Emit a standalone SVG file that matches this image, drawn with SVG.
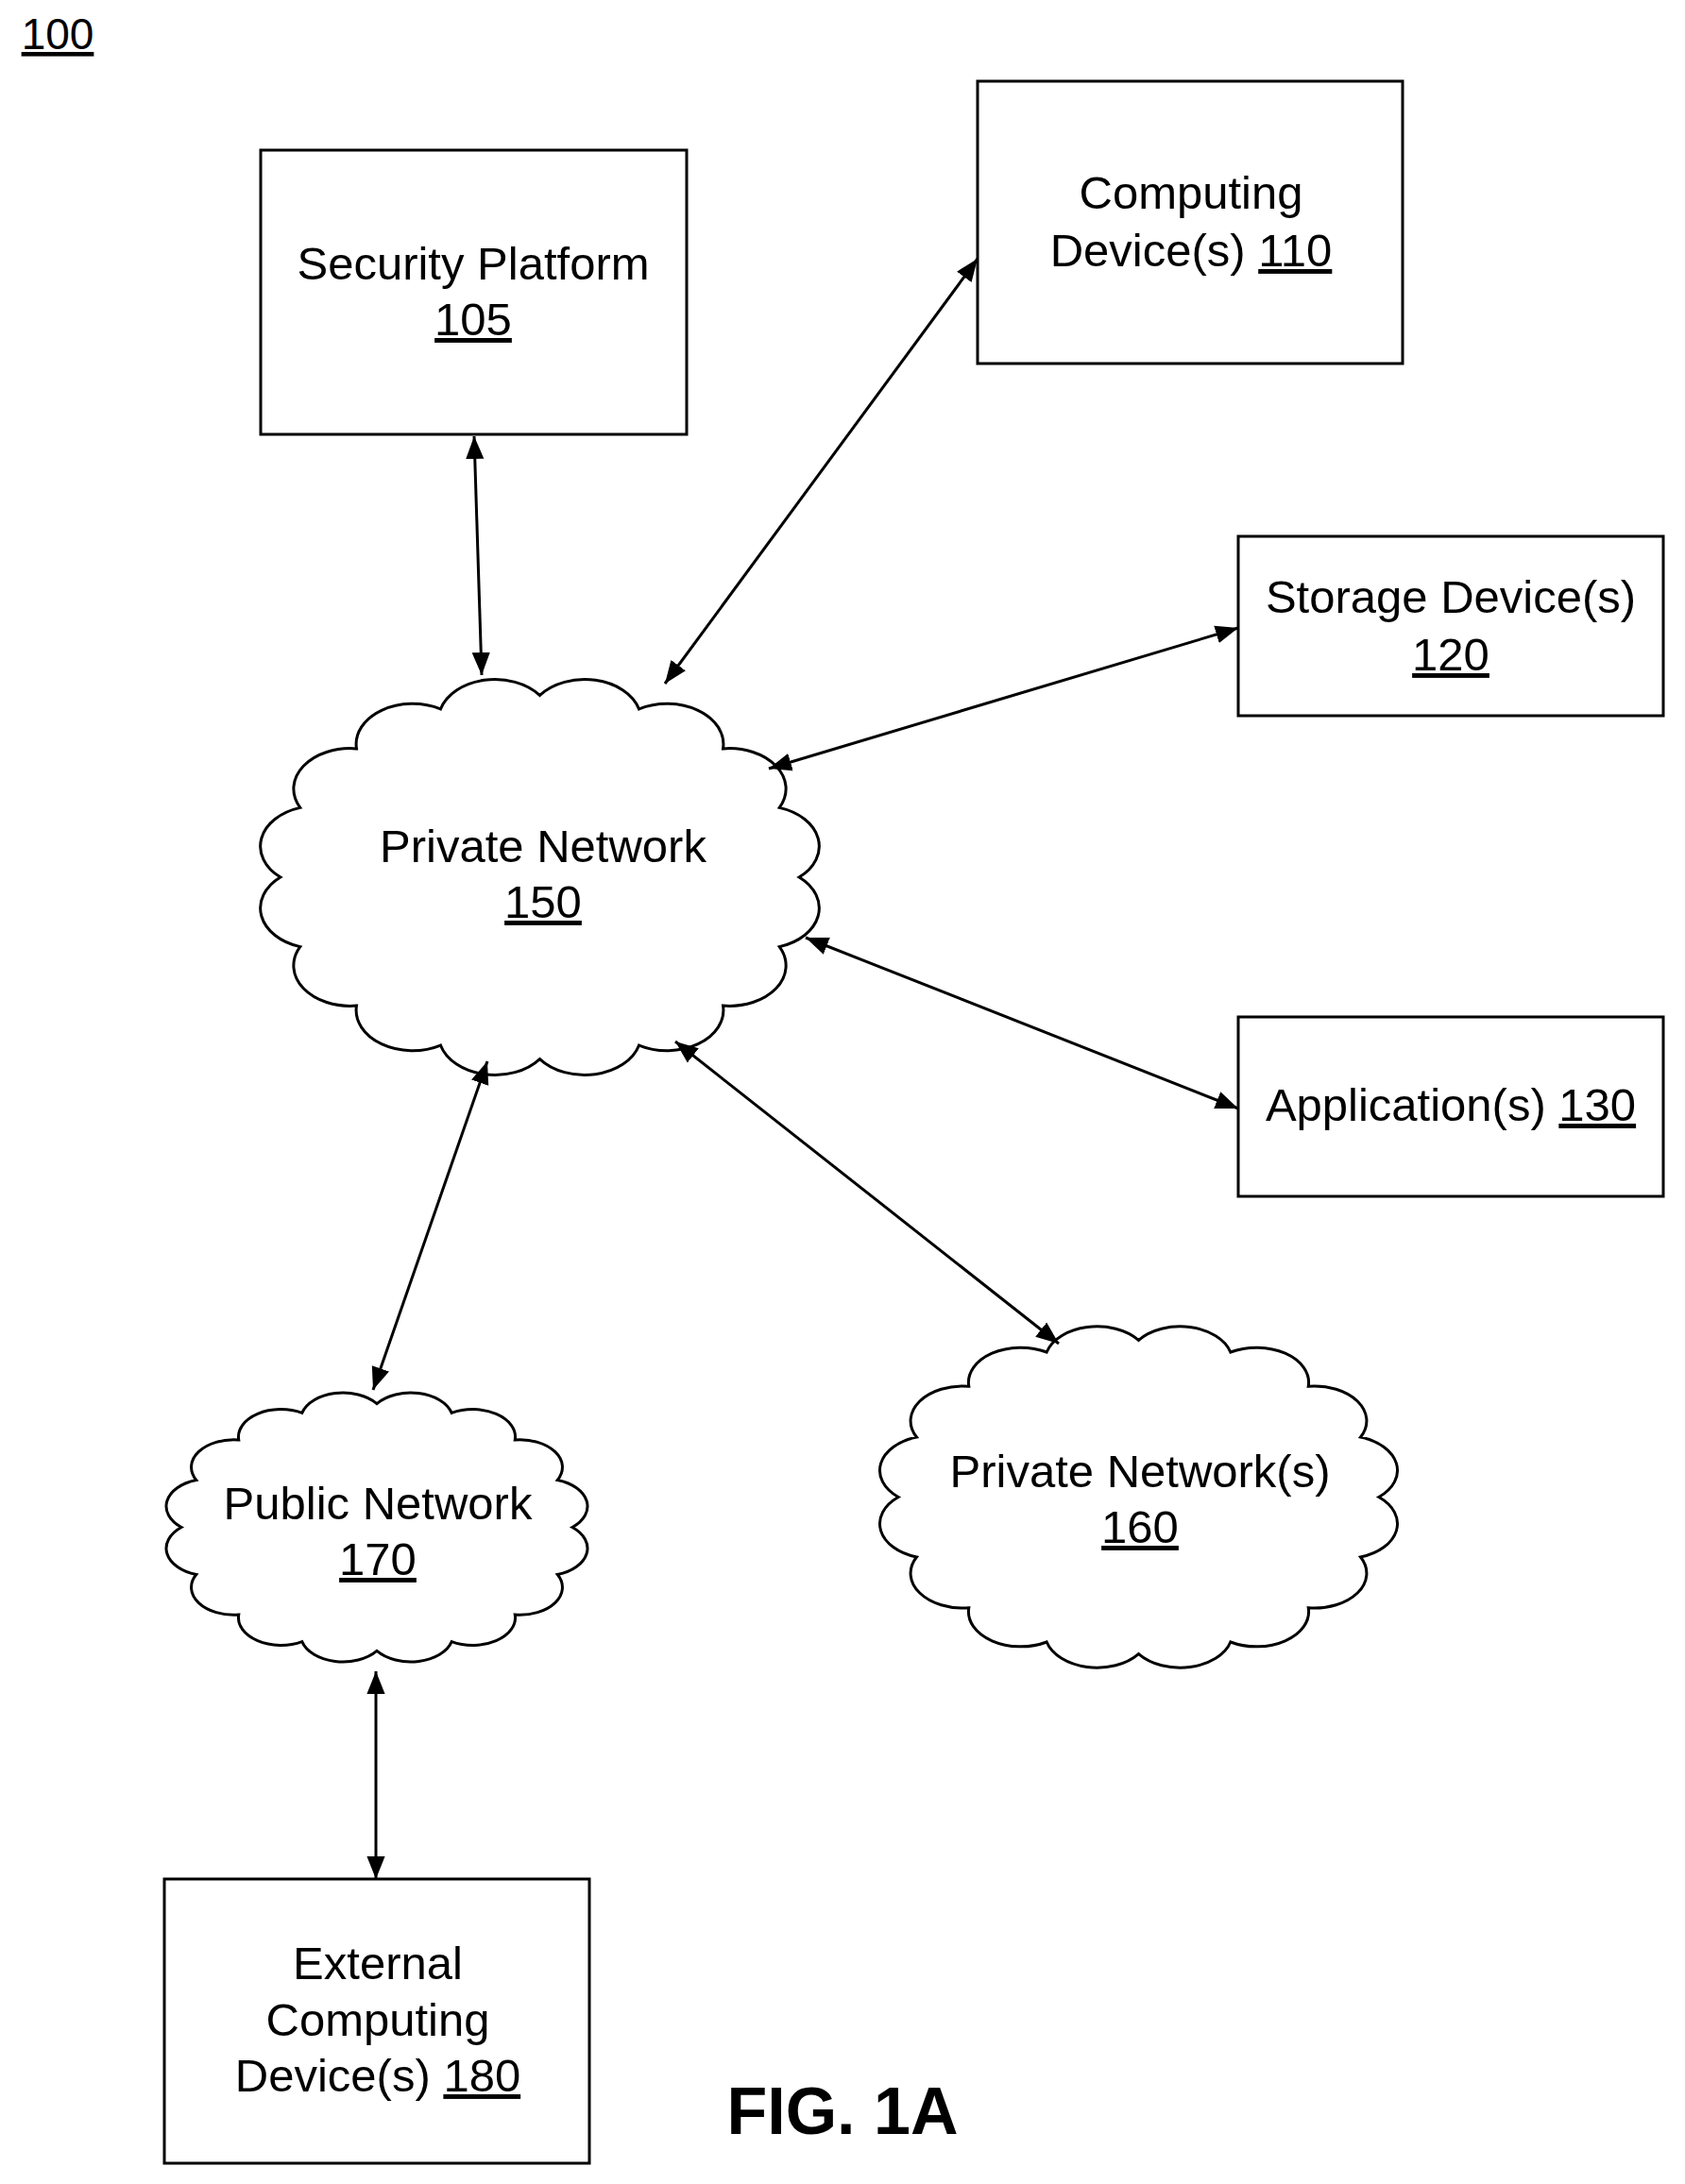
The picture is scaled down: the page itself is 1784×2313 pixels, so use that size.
<svg xmlns="http://www.w3.org/2000/svg" width="1784" height="2313" viewBox="0 0 1784 2313">
<style>
.box{fill:#fff;stroke:#000;stroke-width:3}
.cloud{fill:#fff;stroke:#000;stroke-width:3}
text{font-family:"Liberation Sans",Arial,sans-serif;font-size:49px;fill:#000;text-anchor:middle}
.u{text-decoration:underline}
.con{stroke:#000;stroke-width:3;fill:none;marker-start:url(#ah);marker-end:url(#ah)}
</style>
<defs>
<marker id="ah" viewBox="0 0 10 10" refX="10" refY="5" markerWidth="8" markerHeight="8" orient="auto-start-reverse" markerUnits="strokeWidth"><path d="M0,1 L10,5 L0,9 Z" fill="#000"/></marker>
<path id="cl" vector-effect="non-scaling-stroke" d="M96,50 A10,10 0 0 1 92.5,67.2 A10,10 0 0 1 82.5,81.8 A10,10 0 0 1 67.6,91.6 A10,10 0 0 1 50,95 A10,10 0 0 1 32.4,91.6 A10,10 0 0 1 17.5,81.8 A10,10 0 0 1 7.5,67.2 A10,10 0 0 1 4,50 A10,10 0 0 1 7.5,32.8 A10,10 0 0 1 17.5,18.2 A10,10 0 0 1 32.4,8.4 A10,10 0 0 1 50,5 A10,10 0 0 1 67.6,8.4 A10,10 0 0 1 82.5,18.2 A10,10 0 0 1 92.5,32.8 A10,10 0 0 1 96,50 Z"/>
</defs>
<rect width="1784" height="2313" fill="#fff"/>
<text x="61" y="52" class="u" style="font-size:46px">100</text>
<g id="n105"><rect class="box" x="276" y="159" width="451" height="301"/><text x="501" y="296">Security Platform</text><text x="501" y="355" class="u">105</text></g>
<g id="n110"><rect class="box" x="1035" y="86" width="450" height="299"/><text x="1261" y="221">Computing</text><text x="1261" y="282">Device(s) <tspan class="u">110</tspan></text></g>
<g id="n120"><rect class="box" x="1311" y="568" width="450" height="190"/><text x="1536" y="649">Storage Device(s)</text><text x="1536" y="710" class="u">120</text></g>
<g id="n130"><rect class="box" x="1311" y="1077" width="450" height="190"/><text x="1536" y="1187">Application(s) <tspan class="u">130</tspan></text></g>
<g id="n150"><use href="#cl" class="cloud" transform="translate(273,715) scale(5.97,4.28)"/><text x="575" y="913">Private Network</text><text x="575" y="972" class="u">150</text></g>
<g id="n170"><use href="#cl" class="cloud" transform="translate(174,1472) scale(4.5,2.91)"/><text x="400" y="1609">Public Network</text><text x="400" y="1668" class="u">170</text></g>
<g id="n160"><use href="#cl" class="cloud" transform="translate(929,1401) scale(5.53,3.69)"/><text x="1207" y="1575">Private Network(s)</text><text x="1207" y="1634" class="u">160</text></g>
<g id="n180"><rect class="box" x="174" y="1990" width="450" height="301"/><text x="400" y="2096">External</text><text x="400" y="2156">Computing</text><text x="400" y="2215">Device(s) <tspan class="u">180</tspan></text></g>
<g id="connectors">
<line class="con" x1="502" y1="462" x2="510" y2="715"/>
<line class="con" x1="704" y1="724" x2="1035" y2="274"/>
<line class="con" x1="814" y1="814" x2="1311" y2="665"/>
<line class="con" x1="853" y1="993" x2="1311" y2="1174"/>
<line class="con" x1="715" y1="1103" x2="1121" y2="1423"/>
<line class="con" x1="516" y1="1124" x2="395" y2="1472"/>
<line class="con" x1="398" y1="1770" x2="398" y2="1990"/>
</g>
<text x="892" y="2260" style="font-size:70px;font-weight:bold">FIG. 1A</text>
</svg>
